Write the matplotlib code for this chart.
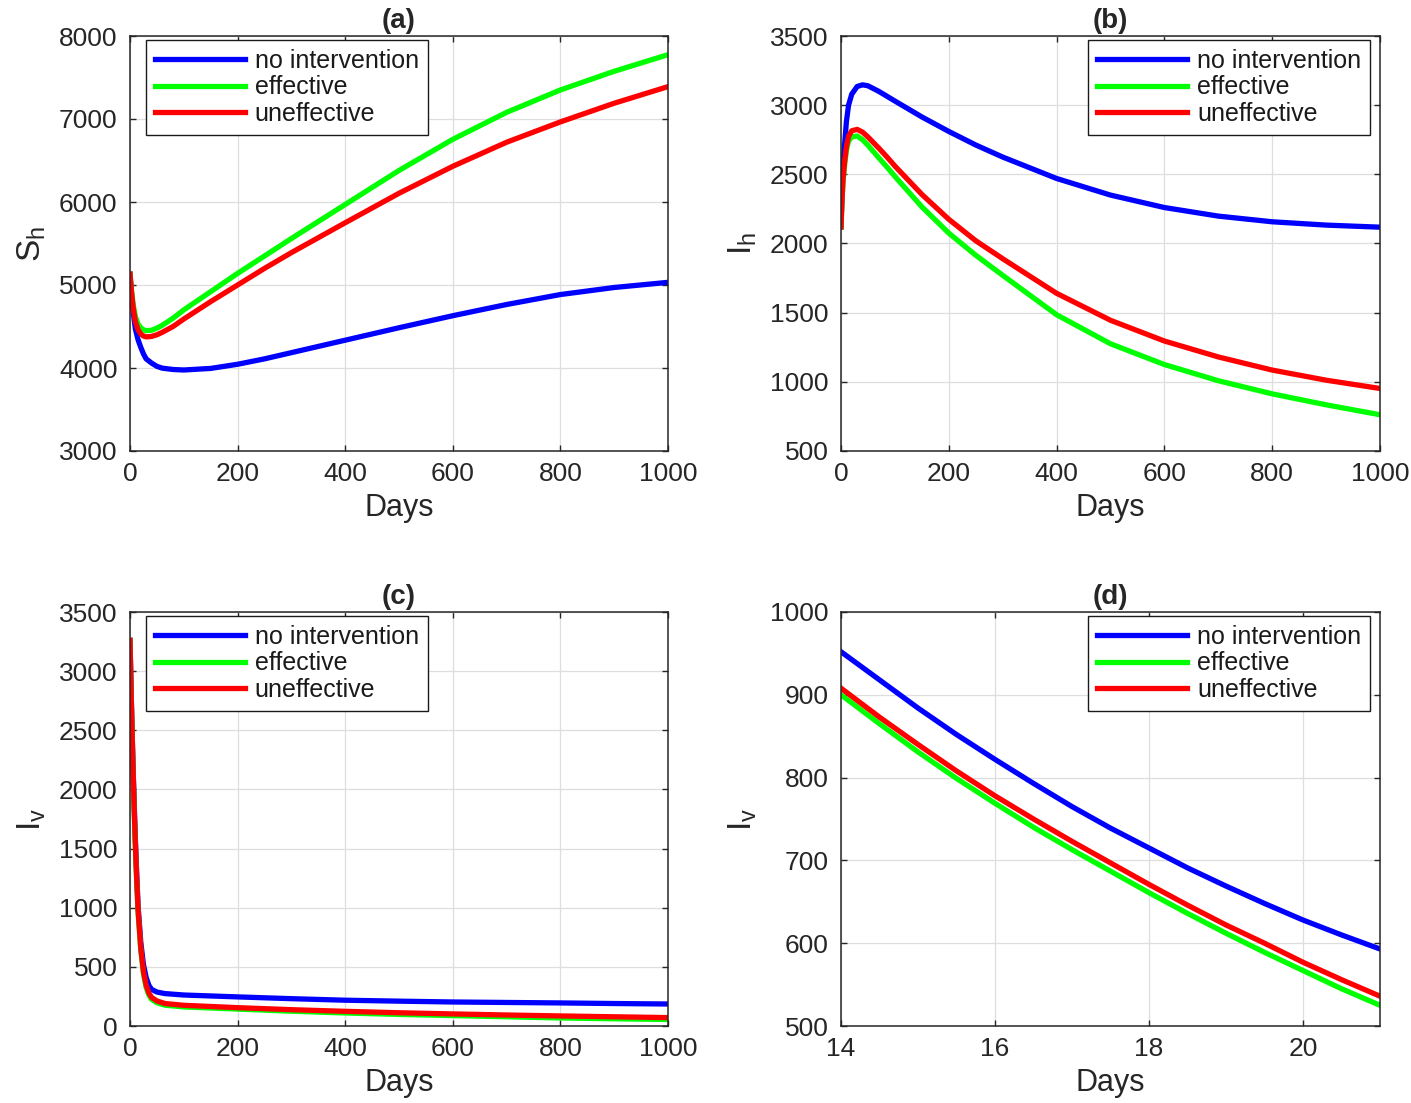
import matplotlib
matplotlib.use('Agg')
import matplotlib.pyplot as plt
import numpy as np

plt.rcParams['font.family'] = ['Liberation Sans', 'DejaVu Sans']
plt.rcParams['mathtext.fontset'] = 'custom'
plt.rcParams['mathtext.rm'] = 'Liberation Sans'
plt.rcParams['mathtext.it'] = 'Liberation Sans:italic'

labels = ['no intervention', 'effective', 'uneffective']
colors = ['#0000ff', '#00ff00', '#ff0000']

# (a) susceptible humans
t_a = [0, 3, 6, 10, 15, 20, 25, 30, 40, 50, 60, 80, 100, 150, 200, 250, 300,
       400, 500, 600, 700, 800, 900, 1000]
sh_none = [5130, 4880, 4670, 4470, 4340, 4250, 4170, 4110, 4060, 4020, 3998, 3982,
           3976, 3995, 4045, 4110, 4185, 4335, 4485, 4630, 4765, 4885, 4970, 5032]
sh_eff = [5130, 4920, 4760, 4620, 4530, 4485, 4460, 4450, 4455, 4480, 4515, 4600,
          4700, 4920, 5140, 5350, 5560, 5970, 6380, 6755, 7080, 7350, 7575, 7775]
sh_uneff = [5130, 4900, 4720, 4560, 4460, 4410, 4385, 4375, 4380, 4400, 4430, 4500,
            4590, 4800, 5000, 5200, 5390, 5750, 6105, 6430, 6720, 6965, 7190, 7390]

# (b) infected humans
t_b = [0, 2, 4, 7, 10, 14, 20, 30, 40, 50, 70, 85, 100, 150, 200, 250, 300,
       400, 500, 600, 700, 800, 900, 1000]
ih_none = [2120, 2400, 2580, 2730, 2880, 3000, 3080, 3135, 3147, 3140, 3100, 3065,
           3030, 2915, 2810, 2712, 2625, 2470, 2350, 2260, 2198, 2157, 2133, 2118]
ih_eff = [2120, 2320, 2460, 2580, 2670, 2740, 2770, 2777, 2750, 2710, 2620, 2554,
          2485, 2265, 2075, 1915, 1770, 1485, 1275, 1125, 1008, 913, 834, 762]
ih_uneff = [2120, 2330, 2480, 2600, 2700, 2775, 2815, 2825, 2805, 2770, 2690, 2627,
            2560, 2355, 2175, 2020, 1890, 1640, 1445, 1295, 1180, 1085, 1012, 952]

# (c) infected vectors
t_c = [0, 2, 4, 6, 8, 10, 12, 15, 20, 25, 30, 35, 40, 50, 65, 100, 200, 300,
       400, 500, 600, 700, 800, 900, 1000]
iv_none = [3260, 2850, 2480, 2150, 1850, 1580, 1340, 1020, 710, 520, 410, 345, 310,
           287, 274, 262, 246, 231, 218, 210, 203, 199, 195, 190, 186]
iv_eff = [3260, 2830, 2450, 2100, 1790, 1520, 1270, 960, 640, 440, 325, 262, 226,
          197, 176, 161, 143, 125, 110, 98, 88, 78, 68, 61, 55]
iv_uneff = [3260, 2840, 2460, 2120, 1810, 1540, 1290, 980, 660, 460, 345, 280, 242,
            212, 190, 175, 155, 138, 124, 112, 102, 93, 85, 78, 71]

# (d) infected vectors, days 14-21
t_d = [14, 14.5, 15, 15.5, 16, 16.5, 17, 17.5, 18, 18.5, 19, 19.5, 20, 20.5, 21]
ivz_none = [952, 918, 884, 852, 822, 793, 765, 739, 715, 691, 669, 648, 628, 610, 593]
ivz_eff = [900, 865, 831, 799, 769, 740, 713, 687, 661, 636, 612, 589, 567, 545, 525]
ivz_uneff = [908, 873, 840, 808, 778, 750, 723, 697, 671, 646, 622, 600, 577, 556, 536]

panels = [
    ('(a)', t_a, [sh_none, sh_eff, sh_uneff], r'$\mathrm{S_h}$', (0, 1000), np.arange(0, 1001, 200), (3000, 8000), np.arange(3000, 8001, 1000), 'upper left'),
    ('(b)', t_b, [ih_none, ih_eff, ih_uneff], r'$\mathrm{I_h}$', (0, 1000), np.arange(0, 1001, 200), (500, 3500), np.arange(500, 3501, 500), 'upper right'),
    ('(c)', t_c, [iv_none, iv_eff, iv_uneff], r'$\mathrm{I_v}$', (0, 1000), np.arange(0, 1001, 200), (0, 3500), np.arange(0, 3501, 500), 'upper left'),
    ('(d)', t_d, [ivz_none, ivz_eff, ivz_uneff], r'$\mathrm{I_v}$', (14, 21), np.arange(14, 21, 2), (500, 1000), np.arange(500, 1001, 100), 'upper right'),
]

W, H = 1411, 1103
boxes = [(130, 36, 668, 451), (841, 36, 1380, 451), (130, 612, 668, 1026), (841, 612, 1380, 1026)]

fig = plt.figure(figsize=(W / 100, H / 100), dpi=100)
txt = '#262626'

for (title, t, series, ylab, xlim, xt, ylim, yt, loc), (x0, y0, x1, y1) in zip(panels, boxes):
    ax = fig.add_axes([x0 / W, 1 - y1 / H, (x1 - x0) / W, (y1 - y0) / H])
    for ys, c, lab in zip(series, colors, labels):
        ax.plot(t, ys, color=c, linewidth=3.8, label=lab)
    ax.set_xlim(*xlim)
    ax.set_ylim(*ylim)
    ax.set_xticks(xt)
    ax.set_yticks(yt)
    ax.grid(True, color='#dedede', linewidth=0.9)
    ax.set_axisbelow(True)
    ax.tick_params(direction='in', length=4, width=1, top=True, right=True,
                   labelsize=19, colors=txt, labelcolor=txt)
    ax.tick_params(axis='x', pad=8)
    ax.tick_params(axis='y', pad=9)
    for s in ax.spines.values():
        s.set_color(txt)
        s.set_linewidth(1.1)
    ax.set_title(title, fontsize=20, fontweight='bold', pad=6, color=txt)
    ax.set_xlabel('Days', fontsize=22, labelpad=5, color=txt)
    ax.set_ylabel(ylab, fontsize=24, labelpad=8, color=txt)
    if loc == 'upper left':
        anchor = (16 / (x1 - x0), 1 - 4 / (y1 - y0))
    else:
        anchor = (1 - 10 / (x1 - x0), 1 - 4 / (y1 - y0))
    leg = ax.legend(loc=loc, bbox_to_anchor=anchor, borderaxespad=0, fontsize=18,
                    handlelength=3.6, handletextpad=0.4, labelspacing=0.1,
                    borderpad=0.35, fancybox=False, framealpha=1)
    leg.get_frame().set_edgecolor('#1a1a1a')
    leg.get_frame().set_linewidth(1.0)
    for tx in leg.get_texts():
        tx.set_color('#1a1a1a')

fig.savefig('out.png', dpi=100)
